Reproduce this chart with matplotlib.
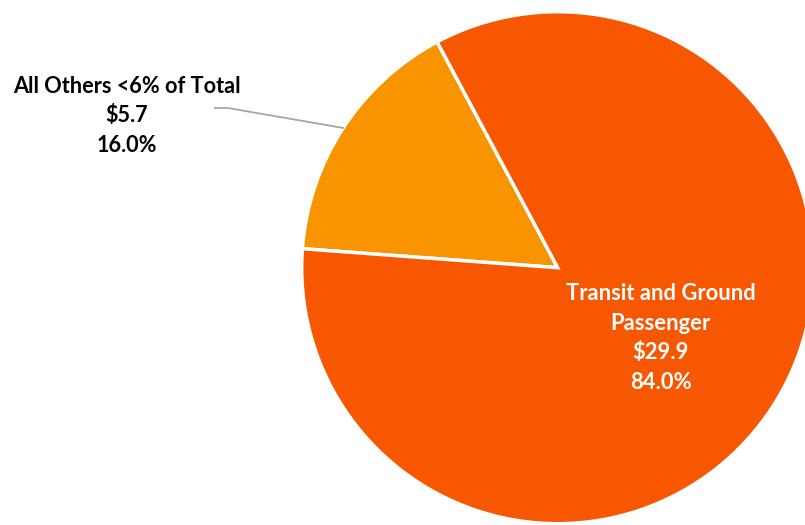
import numpy as np
import matplotlib.pyplot as plt

categories = ["All Others <6% of Total", "Transit and Ground\nPassenger"]
values = [5.7, 29.9]
colors = ["#F89400", "#F65700"]

total = sum(values)
shares = [v / total * 100 for v in values]

plt.rcParams['font.family'] = ['Lato', 'DejaVu Sans']

fig = plt.figure(figsize=(8.05, 5.25), dpi=100)
ax = fig.add_axes([0, 0, 1, 1])

cx, cy, r = 557.7, 257.3, 256
wedges, _ = ax.pie(values, colors=colors, startangle=118.1, center=(cx, cy), radius=r,
                   wedgeprops=dict(edgecolor='white', linewidth=2.5))
ax.set_xlim(0, 805)
ax.set_ylim(0, 525)
ax.set_axis_off()

def label_text(i):
    return f"{categories[i]}\n${values[i]:.1f}\n{shares[i]:.1f}%"

# big slice: label inside
w = wedges[1]
mid = np.deg2rad((w.theta1 + w.theta2) / 2)
ax.text(cx + 0.48 * r * np.cos(mid), cy + 0.48 * r * np.sin(mid) - 3, label_text(1),
        ha='center', va='center', color='white', fontsize=15.8, fontweight='bold',
        linespacing=1.5)

# small slice: label outside with a leader line
w = wedges[0]
mid = np.deg2rad((w.theta1 + w.theta2) / 2)
ex, ey = cx + r * np.cos(mid), cy + r * np.sin(mid)
ax.plot([ex, 228, 215], [ey, 417, 417], color='#A6A6A6', lw=1.3)
ax.text(127, 409, label_text(0), ha='center', va='center', color='black',
        fontsize=15.6, fontweight='bold', linespacing=1.5)

fig.savefig("out.png", dpi=100)
